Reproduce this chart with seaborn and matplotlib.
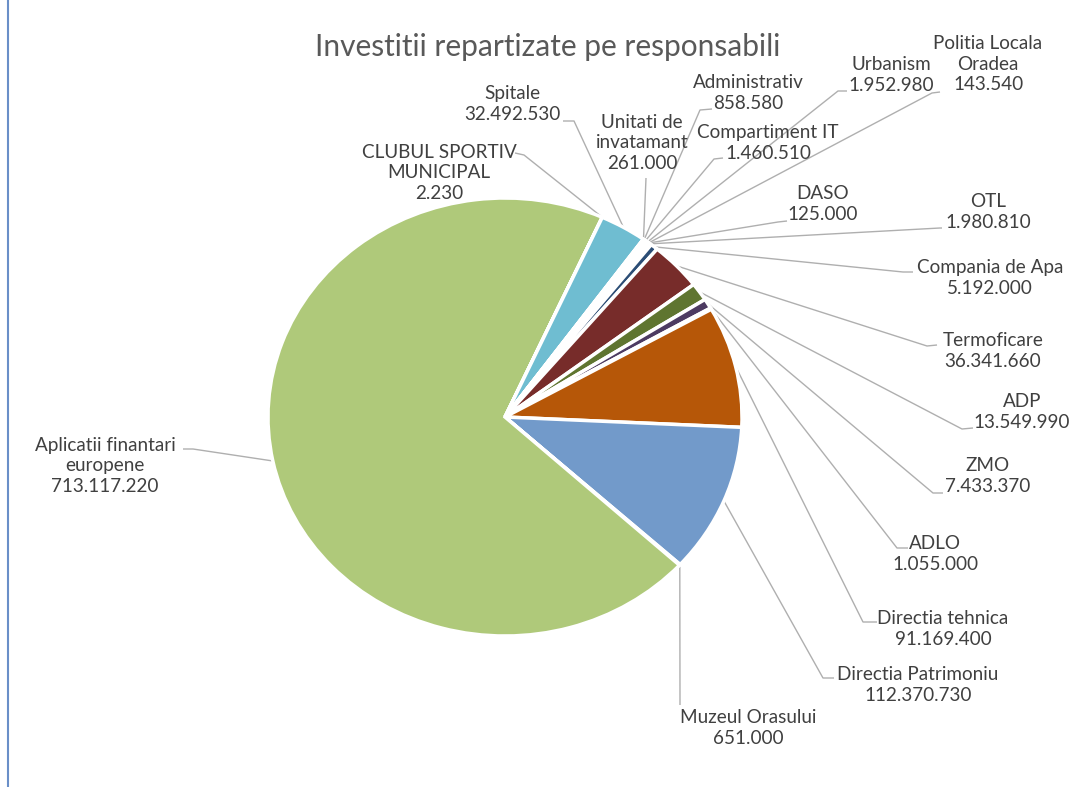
import numpy as np
import matplotlib
matplotlib.use("Agg")
import matplotlib.pyplot as plt
import seaborn as sns

# data (order as in the source table, slices go clockwise)
responsabili = ["Administrativ", "Compartiment IT", "Urbanism", "Politia Locala\nOradea",
                "DASO", "OTL", "Compania de Apa", "Termoficare", "ADP", "ZMO", "ADLO",
                "Directia tehnica", "Directia Patrimoniu", "Muzeul Orasului",
                "Aplicatii finantari\neuropene", "CLUBUL SPORTIV\nMUNICIPAL", "Spitale",
                "Unitati de\ninvatamant"]
valori = [858580, 1460510, 1952980, 143540, 125000, 1980810, 5192000, 36341660,
          13549990, 7433370, 1055000, 91169400, 112370730, 651000, 713117220,
          2230, 32492530, 261000]
culori = ["#4F81BD", "#C0504D", "#9BBB59", "#8064A2", "#4BACC6", "#F79646",
          "#2C4D75", "#772C2A", "#5F7530", "#4D3B62", "#276A7C", "#B65708",
          "#729ACA", "#CD7371", "#AFC97A", "#9983B5", "#6FBDD1", "#F9AB6B"]

# label layout in figure pixels (from top-left): text centre, elbow, line end
text_pos = [(748, 93), (768, 143), (891, 75), (988, 64), (823, 204), (988, 212),
            (990, 278), (993, 351), (1022, 412), (988, 476), (935, 554), (943, 629),
            (918, 685), (748, 728), (105, 466), (439, 173), (512, 104), (642, 143)]
elbow_pos = [(700, 110), (714, 159), (838, 91), (932, 93), (778, 222), (940, 228),
             (903, 272), (927, 346), (962, 429), (933, 493), (897, 548), (863, 622),
             (823, 678), (680, 705), (193, 449), (524, 155), (574, 121), (646, 178)]
end_pos = [(712, 109), (723, 158), (847, 91), (940, 92), (787, 221), (942, 228),
           (913, 272), (937, 345), (973, 428), (943, 493), (908, 548), (877, 622),
           (834, 678), (680, 705), (183, 449), (515, 153), (563, 121), (646, 178)]

W, H = 1077, 787
CX, CY, RX, RY = 505, 417, 237, 219   # pie centre / radii in pixels (image is stretched)

sns.set_theme(style="white")
plt.rcParams['font.family'] = ['Lato', 'DejaVu Sans']

fig = plt.figure(figsize=(W / 100, H / 100), dpi=100)
ax = fig.add_axes([0, 0, 1, 1])

def px(p):
    return ((p[0] - CX) / RX, (CY - p[1]) / RY)

wedges, _ = ax.pie(valori, colors=culori, startangle=54.2, counterclock=False,
                   wedgeprops=dict(edgecolor="white", linewidth=2.5))
ax.set_aspect("auto")
ax.set_xlim(-CX / RX, (W - CX) / RX)
ax.set_ylim((CY - H) / RY, CY / RY)
ax.axis("off")

for i, w in enumerate(wedges):
    mid = np.deg2rad((w.theta1 + w.theta2) / 2)
    p0 = (np.cos(mid), np.sin(mid))
    p1 = px(elbow_pos[i])
    p2 = px(end_pos[i])
    ax.plot([p0[0], p1[0], p2[0]], [p0[1], p1[1], p2[1]], color="#AFAFAF", lw=1.0,
            solid_capstyle="butt", zorder=0)
    eticheta = responsabili[i] + "\n" + f"{valori[i]:,}".replace(",", ".")
    tx, ty = px(text_pos[i])
    ax.text(tx, ty, eticheta, ha="center", va="center", fontsize=13.6,
            color="#404040", linespacing=1.27)

fig.text(548 / W, 1 - 47 / H, "Investitii repartizate pe responsabili", ha="center",
         va="center", fontsize=21.5, color="#595959")

# frame line on the left edge
fig.add_artist(plt.Line2D([8 / W, 8 / W], [0, 1], color="#6A8FC8", lw=1.5))

fig.savefig("out.png", dpi=100, facecolor="white")
